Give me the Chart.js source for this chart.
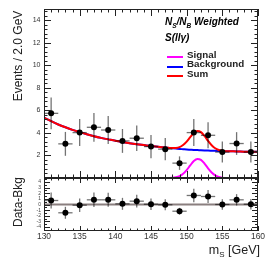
<!DOCTYPE html>
<html><head><meta charset="utf-8">
<script src="https://cdn.jsdelivr.net/npm/chart.js@4.4.1/dist/chart.umd.min.js"></script>
<style>
html,body{margin:0;padding:0;background:#fff;}
#wrap{position:relative;width:274px;height:266px;overflow:hidden;font-family:'Liberation Sans',Arial,sans-serif;}
canvas{position:absolute;left:0;top:0;}
.t{position:absolute;white-space:nowrap;color:#222;line-height:1;}
.leg{position:absolute;height:2px;width:16px;}
</style></head><body>
<div id="wrap">
<canvas id="cTop" width="274" height="266" style="width:274px;height:266px"></canvas>
<canvas id="cBot" width="274" height="266" style="width:274px;height:266px"></canvas>
<div class="t" style="left:17.5px;top:56px;font-size:12px;transform:translate(-50%,-50%) rotate(-90deg);">Events / 2.0 GeV</div>
<div class="t" style="left:17.5px;top:202px;font-size:12px;transform:translate(-50%,-50%) rotate(-90deg);">Data-Bkg</div>
<div class="t" style="right:14px;top:243.5px;font-size:12.5px;">m<span style="font-size:8px;position:relative;top:3px;">S</span> [GeV]</div>
<div class="t" style="left:165px;top:17px;font-size:10px;font-weight:bold;font-style:italic;color:#000;">N<span style="font-size:6.5px;position:relative;top:2.5px;">S</span>/N<span style="font-size:6.5px;position:relative;top:2.5px;">B</span> Weighted</div>
<div class="t" style="left:165px;top:33px;font-size:10px;font-weight:bold;font-style:italic;color:#000;">S(llγ)</div>
<div class="leg" style="left:167px;top:56.3px;background:#ff00ff;"></div>
<div class="leg" style="left:167px;top:65.7px;background:#0000ff;"></div>
<div class="leg" style="left:167px;top:75px;background:#ff0000;"></div>
<div class="t" style="left:187px;top:50.4px;font-size:9.8px;font-weight:bold;">Signal</div>
<div class="t" style="left:187px;top:59.4px;font-size:9.8px;font-weight:bold;">Background</div>
<div class="t" style="left:187px;top:69.2px;font-size:9.8px;font-weight:bold;">Sum</div>
</div>
<script>
// ---- data ----
const binCenters = [131,133,135,137,139,141,143,145,147,149,151,153,155,157,159];
const events     = [5.74,3.03,4.03,4.50,4.26,3.29,3.53,2.79,2.56,1.32,4.03,3.79,2.30,3.06,2.30];
const errors     = [1.41,1.06,1.20,1.28,1.24,1.06,1.13,1.03,0.99,0.60,1.20,1.15,0.93,1.01,0.93];
const residuals  = [0.71,-1.47,-0.12,0.83,0.83,0.12,0.59,0.05,-0.05,-1.19,1.60,1.42,0.00,0.83,0.05];
const curveX     = [130,131,132,133,134,135,136,137,138,139,140,141,142,143,144,145,146,
                    146.5,147,147.5,148,148.5,149,149.5,150,150.5,151,151.5,152,152.5,153,153.5,154,154.5,155,155.5,156,
                    157,158,159,160];
const bgCurve    = [5.35,5.04,4.75,4.50,4.27,4.07,3.88,3.71,3.56,3.43,3.30,3.19,3.09,3.00,2.92,2.84,2.77,
                    2.735,2.70,2.67,2.64,2.61,2.58,2.555,2.53,2.51,2.49,2.475,2.46,2.445,2.43,2.42,2.41,2.40,2.39,2.38,2.37,
                    2.36,2.34,2.33,2.32];
const sigCurve   = [0,0,0,0,0,0,0,0,0,0,0,0,0,0,0,0,0,
                    0,0.001,0.005,0.019,0.06,0.16,0.37,0.70,1.12,1.50,1.69,1.61,1.28,0.86,0.49,0.23,0.09,0.03,0.005,0.001,
                    0,0,0,0];
const sumCurve   = [5.35,5.04,4.75,4.50,4.27,4.07,3.88,3.71,3.56,3.43,3.30,3.19,3.09,3.00,2.92,2.84,2.77,
                    2.735,2.70,2.675,2.66,2.67,2.74,2.93,3.23,3.63,3.99,4.17,4.07,3.73,3.29,2.91,2.64,2.49,2.42,2.385,2.37,
                    2.36,2.34,2.33,2.32];
const xMajorTicks = [130,135,140,145,150,155,160];
const yTopTicks   = [2,4,6,8,10,12,14];
const yBotTicks   = [-4,-3,-2,-1,0,1,2,3,4];

const FONT = "'Liberation Sans', Arial, sans-serif";
const AREA = {left:44, right:258, top:9, mid:178, bottom:231};

function pts(xs, ys){ return xs.map((x,i)=>({x:x, y:ys[i]})); }

const errorBars = {
  id:'errorBars',
  beforeDatasetDraw(chart, args){
    const ds = chart.data.datasets[args.index];
    if(!ds.errs) return;
    const ctx = chart.ctx, xs = chart.scales.x, ys = chart.scales.y, a = chart.chartArea;
    ctx.save();
    ctx.beginPath(); ctx.rect(a.left, a.top, a.right-a.left, a.bottom-a.top); ctx.clip();
    ctx.strokeStyle = 'rgba(0,0,0,0.55)'; ctx.lineWidth = 1.3;
    ds.data.forEach((p,i)=>{
      const px = xs.getPixelForValue(p.x), py = ys.getPixelForValue(p.y);
      const y1 = ys.getPixelForValue(p.y - ds.errs[i]), y2 = ys.getPixelForValue(p.y + ds.errs[i]);
      const x1 = xs.getPixelForValue(p.x - 1), x2 = xs.getPixelForValue(p.x + 1);
      ctx.beginPath(); ctx.moveTo(px, y1); ctx.lineTo(px, y2); ctx.stroke();
      ctx.beginPath(); ctx.moveTo(x1, py); ctx.lineTo(x2, py); ctx.stroke();
    });
    ctx.restore();
  }
};

function framePlugin(cfg){
  return {
    id:'rootFrame',
    afterDraw(chart){
      const ctx = chart.ctx, a = chart.chartArea, xs = chart.scales.x, ys = chart.scales.y;
      ctx.save();
      ctx.strokeStyle = '#222'; ctx.lineWidth = 1;
      ctx.strokeRect(a.left+0.5, a.top+0.5, a.right-a.left-1, a.bottom-a.top-1);
      ctx.beginPath();
      // x ticks (bottom and top edges, pointing inward)
      for(let v = xs.min; v <= xs.max + 1e-9; v += 1){
        const major = xMajorTicks.includes(Math.round(v));
        const len = major ? cfg.xMajor : cfg.xMinor;
        const px = Math.round(xs.getPixelForValue(v)) + 0.5;
        ctx.moveTo(px, a.bottom); ctx.lineTo(px, a.bottom - len);
        ctx.moveTo(px, a.top); ctx.lineTo(px, a.top + len);
      }
      // y ticks (left and right)
      const ym = cfg.yMajorTicks;
      const step = (ym[1]-ym[0]) / cfg.ySub;
      const start = ym[0] - Math.floor((ym[0]-ys.min)/step)*step;
      for(let v = start; v <= ys.max + 1e-9; v += step){
        const k = Math.round((v-ym[0])/step);
        const major = (k % cfg.ySub) === 0;
        const len = major ? cfg.yMajor : cfg.yMinor;
        const py = Math.round(ys.getPixelForValue(v)) + 0.5;
        ctx.moveTo(a.left, py); ctx.lineTo(a.left + len, py);
        ctx.moveTo(a.right, py); ctx.lineTo(a.right - len, py);
      }
      ctx.stroke();
      ctx.restore();
    }
  };
}

// ---- top panel ----
new Chart(document.getElementById('cTop'), {
  type:'scatter',
  data:{datasets:[
    {type:'scatter', data:pts(binCenters, events), errs:errors, pointRadius:3, pointBackgroundColor:'#000', pointBorderWidth:0, order:0},
    {type:'line', data:pts(curveX, sumCurve), borderColor:'#ff0000', borderWidth:2, pointRadius:0, fill:false, cubicInterpolationMode:'monotone', order:1},
    {type:'line', data:pts(curveX, bgCurve), borderColor:'#0000ff', borderWidth:2, pointRadius:0, fill:false, cubicInterpolationMode:'monotone', order:2},
    {type:'line', data:pts(curveX, sigCurve), borderColor:'#ff00ff', borderWidth:2, pointRadius:0, fill:false, cubicInterpolationMode:'monotone', order:3}
  ]},
  options:{
    responsive:false, animation:false, devicePixelRatio:1,
    layout:{autoPadding:false, padding:{left:0, right:274-AREA.right, top:AREA.top, bottom:266-AREA.mid}},
    plugins:{legend:{display:false}, tooltip:{enabled:false}},
    scales:{
      x:{type:'linear', min:130, max:160, display:false},
      y:{type:'linear', min:0, max:15,
         afterFit(s){ s.width = AREA.left; },
         afterBuildTicks(s){ s.ticks = yTopTicks.map(v=>({value:v})); },
         ticks:{font:{size:7, family:FONT}, color:'#333', padding:3.5},
         grid:{display:false, drawTicks:false}, border:{display:false}}
    }
  },
  plugins:[errorBars, framePlugin({xMajor:7, xMinor:3.5, yMajor:7, yMinor:3.5, yMajorTicks:yTopTicks, ySub:5})]
});

// ---- bottom panel ----
new Chart(document.getElementById('cBot'), {
  type:'scatter',
  data:{datasets:[
    {type:'scatter', data:pts(binCenters, residuals), errs:errors, pointRadius:3, pointBackgroundColor:'#000', pointBorderWidth:0, order:0},
    {type:'line', data:[{x:130,y:0},{x:160,y:0}], borderColor:'#8a7f7f', borderWidth:2, pointRadius:0, fill:false, order:1}
  ]},
  options:{
    responsive:false, animation:false, devicePixelRatio:1,
    layout:{autoPadding:false, padding:{left:0, right:274-AREA.right, top:AREA.mid, bottom:0}},
    plugins:{legend:{display:false}, tooltip:{enabled:false}},
    scales:{
      x:{type:'linear', min:130, max:160,
         afterFit(s){ s.height = 266-AREA.bottom; },
         afterBuildTicks(s){ s.ticks = xMajorTicks.map(v=>({value:v})); },
         ticks:{font:{size:8.5, family:FONT}, color:'#333', padding:1, maxRotation:0, autoSkip:false},
         grid:{display:false, drawTicks:false}, border:{display:false}},
      y:{type:'linear', min:-4.7, max:4.7,
         afterFit(s){ s.width = AREA.left; },
         afterBuildTicks(s){ s.ticks = yBotTicks.map(v=>({value:v})); },
         ticks:{font:{size:5, family:FONT}, color:'#444', padding:3, autoSkip:false},
         grid:{display:false, drawTicks:false}, border:{display:false}}
    }
  },
  plugins:[errorBars, framePlugin({xMajor:5, xMinor:2.5, yMajor:6, yMinor:3, yMajorTicks:yBotTicks, ySub:2})]
});
</script>
</body></html>
